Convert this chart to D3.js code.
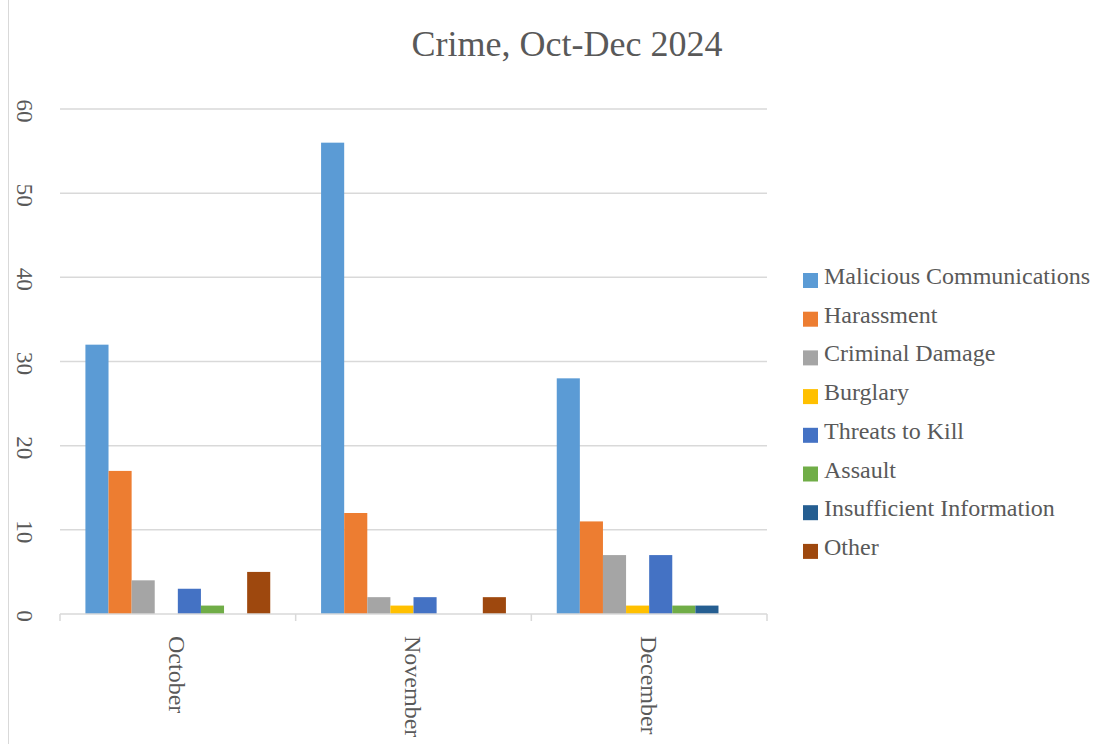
<!DOCTYPE html>
<html>
<head>
<meta charset="utf-8">
<script src="https://cdn.jsdelivr.net/npm/d3@7"></script>
<style>
  body { margin: 0; background: #fff; }
  text { font-family: "Liberation Serif", "Times New Roman", serif; fill: #595959; }
</style>
</head>
<body>
<div id="chart"></div>
<script>
// chart data
var months = ["October", "November", "December"];
var seriesNames = ["Malicious Communications", "Harassment", "Criminal Damage", "Burglary",
    "Threats to Kill", "Assault", "Insufficient Information", "Other"];
var seriesColors = ["#5B9BD5", "#ED7D31", "#A5A5A5", "#FFC000", "#4472C4", "#70AD47", "#255E91", "#9E480E"];
var octValues = [32, 17, 4, 0, 3, 1, 0, 5];
var novValues = [56, 12, 2, 1, 2, 0, 0, 2];
var decValues = [28, 11, 7, 1, 7, 1, 1, 0];
var yTicks = [0, 10, 20, 30, 40, 50, 60];

var monthValues = [octValues, novValues, decValues];

var W = 1115, H = 744;
var margin = {left: 60, right: 348, top: 109, bottom: 130};
var width = W - margin.left - margin.right;
var height = H - margin.top - margin.bottom;

var svg = d3.select("#chart").append("svg")
    .attr("width", W)
    .attr("height", H);

// frame line on the left edge
svg.append("line")
    .attr("x1", 8.5).attr("x2", 8.5)
    .attr("y1", 0).attr("y2", H)
    .attr("stroke", "#d9d9d9");

// title
svg.append("text")
    .attr("x", 567)
    .attr("y", 56)
    .attr("text-anchor", "middle")
    .style("font-size", "36px")
    .text("Crime, Oct-Dec 2024");

var chart = svg.append("g")
    .attr("transform", "translate(" + margin.left + "," + margin.top + ")");

var x0 = d3.scaleBand()
    .domain(months)
    .range([0, width])
    .paddingInner(0);

var x1 = d3.scaleBand()
    .domain(seriesNames)
    .range([0, x0.bandwidth()])
    .paddingInner(0)
    .paddingOuter(1.1);

var y = d3.scaleLinear()
    .domain([0, 60])
    .range([height, 0]);

// gridlines
chart.append("g")
    .selectAll("line")
    .data(yTicks.filter(function(d) { return d > 0; }))
    .enter().append("line")
    .attr("x1", 0).attr("x2", width)
    .attr("y1", function(d) { return y(d); })
    .attr("y2", function(d) { return y(d); })
    .attr("stroke", "#d9d9d9")
    .attr("stroke-width", 1.5);

// y tick labels, rotated
chart.append("g")
    .selectAll("text")
    .data(yTicks)
    .enter().append("text")
    .attr("transform", function(d) { return "translate(-35," + (y(d) + 2) + ") rotate(90)"; })
    .attr("text-anchor", "middle")
    .attr("dy", "0.35em")
    .style("font-size", "23px")
    .text(function(d) { return d; });

// bars
var groups = chart.append("g")
    .selectAll("g")
    .data(months)
    .enter().append("g")
    .attr("transform", function(d) { return "translate(" + x0(d) + ",0)"; });

groups.selectAll("rect")
    .data(function(d, i) {
        return seriesNames.map(function(s, j) {
            return {name: s, value: monthValues[i][j], color: seriesColors[j]};
        });
    })
    .enter().append("rect")
    .attr("x", function(d) { return x1(d.name); })
    .attr("width", x1.bandwidth())
    .attr("y", function(d) { return y(d.value); })
    .attr("height", function(d) { return height - y(d.value); })
    .attr("fill", function(d) { return d.color; });

// x axis
var xAxis = chart.append("g")
    .attr("transform", "translate(0," + height + ")");

xAxis.append("line")
    .attr("x1", 0).attr("x2", width)
    .attr("y1", 0).attr("y2", 0)
    .attr("stroke", "#d9d9d9")
    .attr("stroke-width", 1.5);

xAxis.selectAll("line.tick")
    .data(months.map(function(m) { return x0(m); }).concat([width]))
    .enter().append("line")
    .classed("tick", true)
    .attr("x1", function(d) { return d; })
    .attr("x2", function(d) { return d; })
    .attr("y1", 0).attr("y2", 7)
    .attr("stroke", "#d9d9d9")
    .attr("stroke-width", 1.5);

xAxis.selectAll("text")
    .data(months)
    .enter().append("text")
    .attr("transform", function(d) {
        return "translate(" + (x0(d) + x0.bandwidth() / 2) + ",22) rotate(90)";
    })
    .attr("text-anchor", "start")
    .attr("dy", "0.35em")
    .style("font-size", "24px")
    .text(function(d) { return d; });

// legend
var legend = svg.append("g")
    .attr("transform", "translate(803,276)");

var items = legend.selectAll("g")
    .data(seriesNames)
    .enter().append("g")
    .attr("transform", function(d, i) { return "translate(0," + (i * 38.7) + ")"; });

items.append("rect")
    .attr("x", 0).attr("y", -3)
    .attr("width", 15).attr("height", 15)
    .attr("fill", function(d, i) { return seriesColors[i]; });

items.append("text")
    .attr("x", 21)
    .attr("y", 8)
    .style("font-size", "24px")
    .text(function(d) { return d; });
</script>
</body>
</html>
